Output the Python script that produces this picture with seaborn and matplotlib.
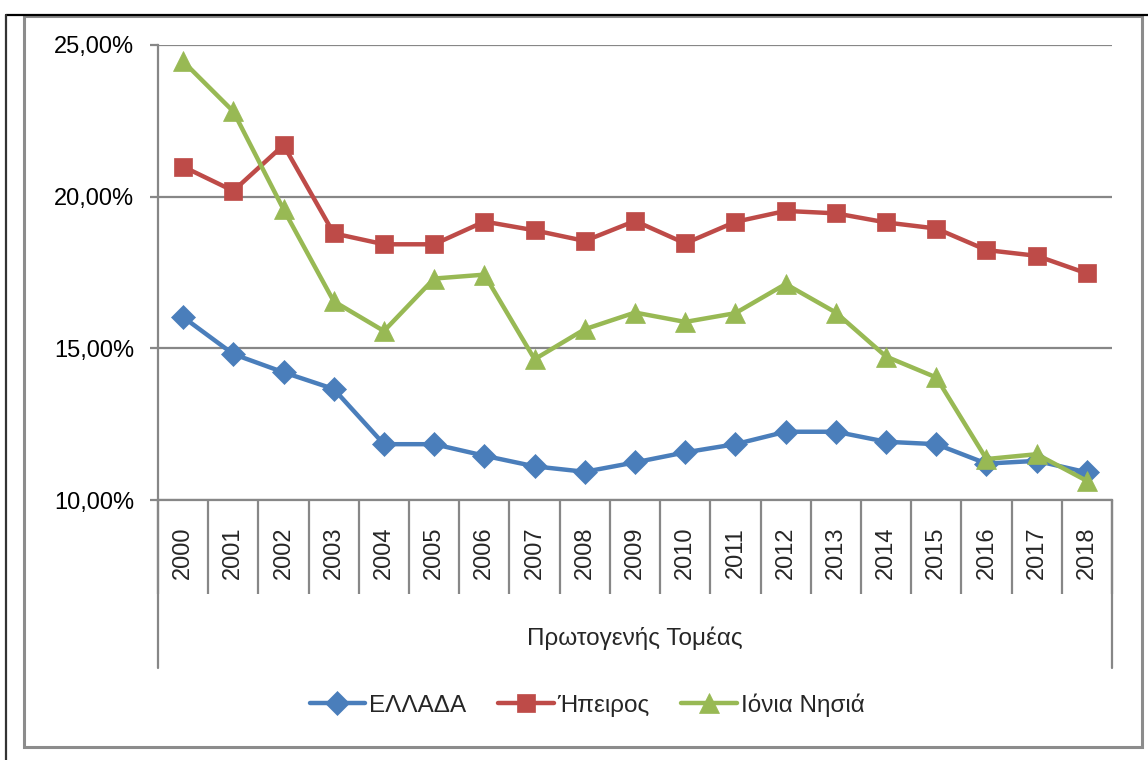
import pandas as pd
import matplotlib.pyplot as plt
import seaborn as sns
from matplotlib.lines import Line2D
from matplotlib.patches import Rectangle
from matplotlib.ticker import FuncFormatter

# --- data ---
years = [str(y) for y in range(2000, 2019)]
ellada = [16.03, 14.81, 14.21, 13.66, 11.84, 11.84, 11.46, 11.11, 10.93, 11.24,
          11.57, 11.84, 12.25, 12.25, 11.92, 11.84, 11.20, 11.29, 10.91]
ipeiros = [20.99, 20.19, 21.70, 18.79, 18.43, 18.43, 19.18, 18.89, 18.54, 19.20,
           18.46, 19.17, 19.53, 19.45, 19.15, 18.95, 18.24, 18.05, 17.47]
ionia = [24.46, 22.81, 19.58, 16.55, 15.57, 17.30, 17.43, 14.64, 15.63, 16.18,
         15.87, 16.16, 17.12, 16.18, 14.73, 14.04, 11.35, 11.51, 10.63]
series_names = ['ΕΛΛΑΔΑ', 'Ήπειρος', 'Ιόνια Νησιά']
axis_title = 'Πρωτογενής Τομέας'

colors = ['#4A7EBB', '#BE4B48', '#98B954']
markers = ['D', 's', '^']
msizes = [12, 13, 14]

sns.set_theme(style='white')
plt.rcParams['font.family'] = ['Liberation Sans', 'DejaVu Sans']

W, H = 1148, 760
fig = plt.figure(figsize=(W / 100, H / 100), dpi=100)
ax = fig.add_axes([158 / W, 1 - 500 / H, (1112 - 158) / W, (500 - 45) / H])

grey = '#878787'
pos = list(range(len(years)))
for name, vals, c, m, ms in zip(series_names, [ellada, ipeiros, ionia], colors, markers, msizes):
    df = pd.DataFrame({'x': pos, 'y': [v / 100 for v in vals]})
    sns.lineplot(data=df, x='x', y='y', ax=ax, color=c, lw=3.2, marker=m,
                 markersize=ms, markeredgecolor=c, markeredgewidth=0.5,
                 label=name, clip_on=False)

ax.set_xlim(-0.5, len(years) - 0.5)
ax.set_ylim(0.10, 0.25)
ax.set_yticks([0.10, 0.15, 0.20, 0.25])
ax.yaxis.set_major_formatter(FuncFormatter(lambda v, p: f'{v * 100:.2f}%'.replace('.', ',')))
ax.yaxis.grid(True, color=grey, lw=1.6)
ax.set_axisbelow(True)
ax.set_xlabel('')
ax.set_ylabel('')
for s in ['top', 'right']:
    ax.spines[s].set_visible(False)
for s in ['left', 'bottom']:
    ax.spines[s].set_color(grey)
    ax.spines[s].set_linewidth(1.6)

ax.tick_params(axis='y', length=6, width=1.6, color=grey, left=True, pad=11,
               labelsize=17, labelcolor='black')
# category separators as long downward ticks
ax.set_xticks([i - 0.5 for i in range(len(years) + 1)])
ax.set_xticklabels([])
ax.tick_params(axis='x', bottom=True, length=68, width=1.6, color=grey, direction='out')

trans = ax.get_xaxis_transform()
for i, yr in enumerate(years):
    ax.text(i, -0.115, yr, rotation=90, ha='center', va='center', fontsize=17, transform=trans)

# outer group lines of the multi-level category axis
for xb in [-0.5, len(years) - 0.5]:
    ax.plot([xb, xb], [0, -(668 - 500) / 455], transform=trans, color=grey, lw=1.6, clip_on=False)

fig.text(635 / W, 1 - 638 / H, axis_title, ha='center', va='center', fontsize=17.5)

handles, labels = ax.get_legend_handles_labels()
ax.get_legend().remove()
fig.legend(handles, labels, loc='center', bbox_to_anchor=(587 / W, 1 - 705 / H), ncol=3,
           frameon=False, fontsize=17.5, handlelength=2.3, handletextpad=0.15,
           columnspacing=1.3)

# chart frame and outer border lines
fig.add_artist(Rectangle((24 / W, 1 - 747 / H), (1142 - 24) / W, (747 - 16) / H,
                         transform=fig.transFigure, fill=False, ec='#8C8C8C', lw=2.2))
fig.add_artist(Line2D([6 / W, 1], [1 - 15 / H, 1 - 15 / H], transform=fig.transFigure, color='black', lw=1.6))
fig.add_artist(Line2D([6 / W, 6 / W], [0, 1 - 15 / H], transform=fig.transFigure, color='#333333', lw=1.6))

fig.savefig('out.png', dpi=100)
